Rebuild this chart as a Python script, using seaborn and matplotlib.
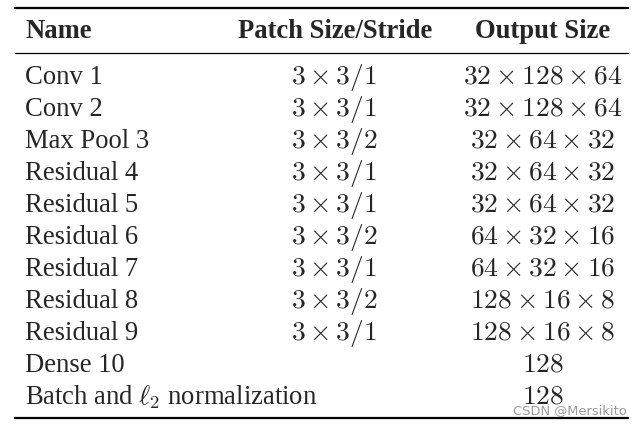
import matplotlib
matplotlib.use("Agg")
import matplotlib.pyplot as plt
import pandas as pd
import seaborn as sns

# table contents
header = ["Name", "Patch Size/Stride", "Output Size"]
names = ["Conv 1", "Conv 2", "Max Pool 3", "Residual 4", "Residual 5",
         "Residual 6", "Residual 7", "Residual 8", "Residual 9",
         "Dense 10", r"Batch and $\ell_2$ normalization"]
patch = [r"$3\times3/1$", r"$3\times3/1$", r"$3\times3/2$", r"$3\times3/1$",
         r"$3\times3/1$", r"$3\times3/2$", r"$3\times3/1$", r"$3\times3/2$",
         r"$3\times3/1$", "", ""]
output = [r"$32\times128\times64$", r"$32\times128\times64$",
          r"$32\times64\times32$", r"$32\times64\times32$",
          r"$32\times64\times32$", r"$64\times32\times16$",
          r"$64\times32\times16$", r"$128\times16\times8$",
          r"$128\times16\times8$", r"$128$", r"$128$"]

df = pd.DataFrame({"name": names, "patch": patch, "output": output})

sns.set_theme(style="white")
plt.rcParams['font.family'] = ['Liberation Serif', 'DejaVu Serif']
plt.rcParams['mathtext.fontset'] = 'cm'

fig = plt.figure(figsize=(6.43, 4.26), dpi=100)
ax = fig.add_axes([0, 0, 1, 1])
ax.set_xlim(0, 643)
ax.set_ylim(426, 0)
ax.axis("off")

fs = 19.2
mfs = 19.8
col_x = [25, 334, 543]
aligns = ["left", "center", "center"]

# rules
ax.plot([15, 628], [8, 8], color="black", lw=1.6)
ax.plot([15, 628], [53, 53], color="black", lw=0.9)
ax.plot([15, 628], [417.5, 417.5], color="black", lw=1.6)

for x, h, a in zip([25, 335, 543], header, aligns):
    ax.text(x, 38.5, h, ha=a, va="baseline", fontsize=fs, fontweight="bold")

y0, dy = 84, 32
for i, row in df.iterrows():
    y = y0 + i * dy
    ax.text(col_x[0], y, row["name"], ha="left", va="baseline", fontsize=fs)
    if row["patch"]:
        ax.text(col_x[1], y, row["patch"], ha="center", va="baseline", fontsize=mfs)
    ax.text(col_x[2], y, row["output"], ha="center", va="baseline", fontsize=mfs)

# watermark
ax.text(627, 411, "CSDN @Mersikito", ha="right", va="center", fontsize=9.4,
        color="#9a9a9a", family="DejaVu Sans")

fig.savefig("out.png", dpi=100, facecolor="white")
